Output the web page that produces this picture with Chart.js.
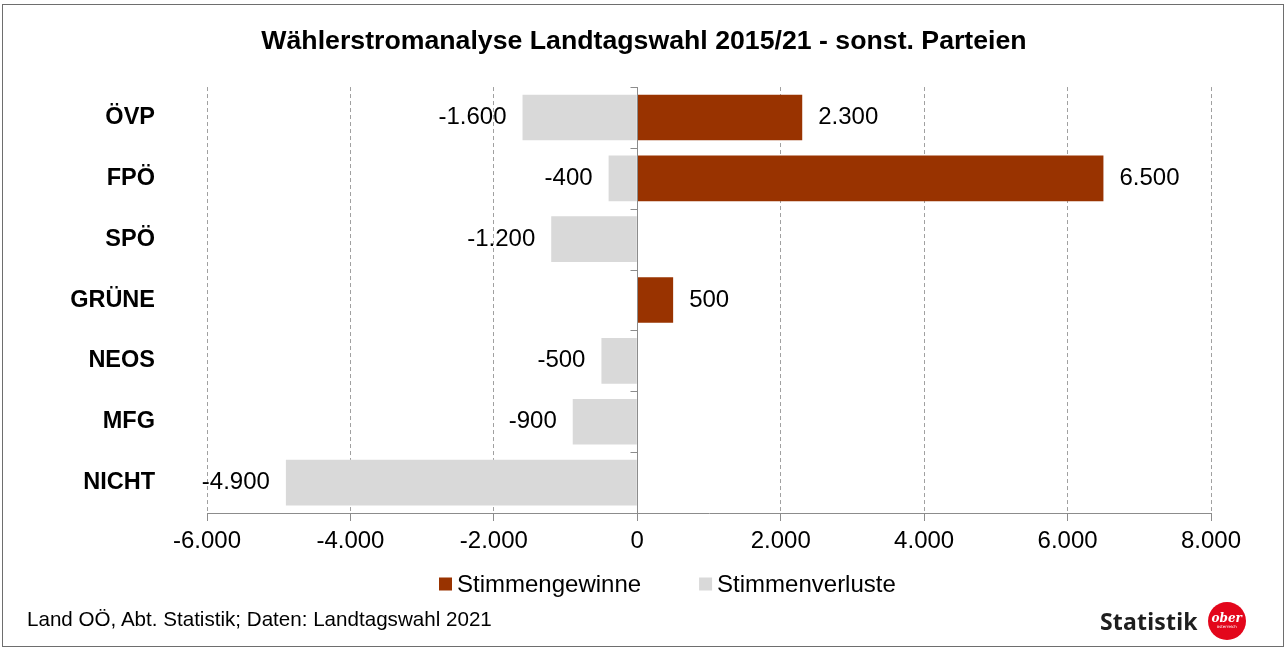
<!DOCTYPE html>
<html>
<head>
<meta charset="utf-8">
<script src="https://cdn.jsdelivr.net/npm/chart.js@4"></script>
<style>
  body { margin: 0; background: #fff; }
  #wrap { position: relative; width: 1288px; height: 651px; overflow: hidden; }
  #frame { position: absolute; left: 2px; top: 4px; width: 1282px; height: 643px; border: 1px solid #6e6e6e; box-sizing: border-box; }
  canvas { position: absolute; left: 0; top: 0; }
  #source { position: absolute; left: 27px; top: 607px; font: 20.6px 'Liberation Sans', Arial, sans-serif; color: #000; }
  #logo { position: absolute; left: 1100px; top: 602px; height: 38px; display: flex; align-items: center; }
  #logo .txt { font: bold 23px 'Noto Sans', 'Open Sans', sans-serif; color: #1e1e1e; letter-spacing: 0.2px; }
  #logo .dot { margin-left: 10px; width: 38px; height: 38px; border-radius: 50%; background: #e3061b; color: #fff;
               display: flex; flex-direction: column; align-items: center; justify-content: center; }
  #logo .dot b { font: italic bold 12px 'DejaVu Serif', serif; line-height: 11px; }
  #logo .dot i { font: 4px 'DejaVu Sans', sans-serif; font-style: normal; line-height: 5px; }
</style>
</head>
<body>
<div id="wrap">
  <canvas id="stromChart" width="1288" height="651"></canvas>
  <div id="frame"></div>
  <div id="source">Land OÖ, Abt. Statistik; Daten: Landtagswahl 2021</div>
  <div id="logo"><span class="txt">Statistik</span><span class="dot"><b>ober</b><i>österreich</i></span></div>
</div>
<script>
// Chart data
const parteien = ['ÖVP', 'FPÖ', 'SPÖ', 'GRÜNE', 'NEOS', 'MFG', 'NICHT'];
const gewinne = [2300, 6500, 0, 500, 0, 0, 0];
const verluste = [-1600, -400, -1200, 0, -500, -900, -4900];
const xMin = -6000;
const xMax = 8000;
const xStep = 2000;

const FONT = "'Liberation Sans', Arial, sans-serif";
Chart.defaults.font.family = FONT;
Chart.defaults.color = '#000';

// German number format: -4.900
function fmt(v) {
    const s = String(Math.abs(v)).replace(/\B(?=(\d{3})+(?!\d))/g, '.');
    return (v < 0 ? '-' : '') + s;
}

// Value labels outside the bar ends, zero line and legend
const extras = {
    id: 'extras',
    afterDatasetsDraw(chart) {
        const ctx = chart.ctx;
        const xs = chart.scales.x;
        const ys = chart.scales.y;
        const area = chart.chartArea;
        const x0 = Math.round(xs.getPixelForValue(0)) + 0.5;

        ctx.save();
        ctx.strokeStyle = '#8c8c8c';
        ctx.lineWidth = 1;
        ctx.beginPath();
        ctx.moveTo(x0, area.top);
        ctx.lineTo(x0, area.bottom);
        for (let i = 0; i <= parteien.length; i++) {
            let y;
            if (i === 0) y = area.top;
            else if (i === parteien.length) y = area.bottom;
            else y = (ys.getPixelForValue(i - 1) + ys.getPixelForValue(i)) / 2;
            y = Math.round(y) + 0.5;
            ctx.moveTo(x0 - 7, y);
            ctx.lineTo(x0, y);
        }
        ctx.stroke();

        ctx.font = '24px ' + FONT;
        ctx.fillStyle = '#000';
        ctx.textBaseline = 'middle';
        chart.data.datasets.forEach((ds, di) => {
            const meta = chart.getDatasetMeta(di);
            meta.data.forEach((bar, i) => {
                const v = ds.data[i];
                if (!v) return;
                if (v > 0) {
                    ctx.textAlign = 'left';
                    ctx.fillText(fmt(v), bar.x + 16, bar.y);
                } else {
                    ctx.textAlign = 'right';
                    ctx.fillText(fmt(v), bar.x - 16, bar.y);
                }
            });
        });

        // legend
        let lx = 439;
        const ly = 584;
        ctx.textAlign = 'left';
        chart.data.datasets.forEach(ds => {
            ctx.fillStyle = ds.backgroundColor;
            ctx.fillRect(lx, ly - 6.5, 13, 13);
            lx += 18;
            ctx.fillStyle = '#000';
            ctx.fillText(ds.label, lx, ly + 1);
            lx += ctx.measureText(ds.label).width + 58;
        });
        ctx.restore();
    }
};

const stromChart = new Chart(document.getElementById('stromChart'), {
    type: 'bar',
    data: {
        labels: parteien,
        datasets: [{
            label: 'Stimmengewinne',
            data: gewinne,
            backgroundColor: '#993300',
            categoryPercentage: 1,
            barPercentage: 0.75
        }, {
            label: 'Stimmenverluste',
            data: verluste,
            backgroundColor: '#d9d9d9',
            categoryPercentage: 1,
            barPercentage: 0.75
        }]
    },
    options: {
        indexAxis: 'y',
        responsive: false,
        animation: false,
        layout: {
            padding: { left: 40, right: 40, top: 0, bottom: 88 }
        },
        plugins: {
            legend: { display: false },
            tooltip: { enabled: false },
            title: {
                display: true,
                text: 'Wählerstromanalyse Landtagswahl 2015/21 - sonst. Parteien',
                font: { size: 26.7, weight: 'bold' },
                color: '#000',
                padding: { top: 26, bottom: 29 }
            }
        },
        scales: {
            x: {
                stacked: true,
                min: xMin,
                max: xMax,
                afterFit: scale => { scale.height = 50; },
                ticks: {
                    stepSize: xStep,
                    padding: 6,
                    font: { size: 24 },
                    color: '#000',
                    callback: v => fmt(v)
                },
                grid: {
                    color: c => (c.tick && c.tick.value === 0) ? 'rgba(0,0,0,0)' : '#a0a0a0',
                    tickColor: '#8c8c8c',
                    tickLength: 8
                },
                border: { display: true, color: '#8c8c8c', width: 1, dash: [4, 3] }
            },
            y: {
                stacked: true,
                afterFit: scale => { scale.width = 167; },
                ticks: {
                    padding: 52,
                    font: { size: 23.5, weight: 'bold' },
                    color: '#000'
                },
                grid: { display: false, drawTicks: false },
                border: { display: false }
            },
            // empty spacer on the right so the plot ends where the reference does
            yRight: {
                type: 'category',
                position: 'right',
                afterFit: scale => { scale.width = 37; },
                ticks: { display: false },
                grid: { display: false, drawTicks: false },
                border: { display: false }
            }
        }
    },
    plugins: [extras]
});
</script>
</body>
</html>
